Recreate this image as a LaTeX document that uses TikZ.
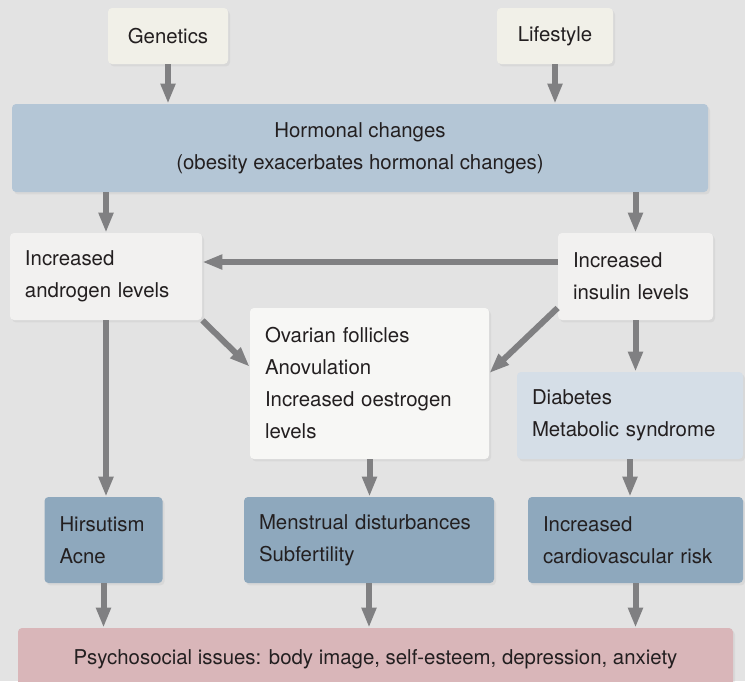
\documentclass[tikz,border=0pt]{standalone}
\usepackage{fontspec}
\setmainfont{TeX Gyre Heros}
\usetikzlibrary{arrows.meta,shadows}
\definecolor{PageGray}{RGB}{227,227,227}
\definecolor{InkGray}{RGB}{35,31,32}
\definecolor{ArrowGray}{RGB}{128,128,130}
\definecolor{CreamBox}{RGB}{241,240,232}
\definecolor{HormoneBlue}{RGB}{180,198,214}
\definecolor{LevelWhite}{RGB}{242,241,240}
\definecolor{OvaryWhite}{RGB}{247,247,245}
\definecolor{MetabBlue}{RGB}{213,222,231}
\definecolor{SteelBlue}{RGB}{142,168,189}
\definecolor{SoftPink}{RGB}{217,182,185}
\tikzset{
  box/.style={rounded corners=2pt,inner xsep=7.5pt,inner ysep=0pt,
    text=InkGray,font=\fontsize{10.2}{16}\selectfont,
    drop shadow={opacity=0.1,shadow xshift=1pt,shadow yshift=-1.2pt}},
  cause/.style={box,fill=CreamBox,align=center},
  hormone/.style={box,fill=HormoneBlue,align=center},
  level/.style={box,fill=LevelWhite,align=left},
  feature/.style={box,fill=OvaryWhite,align=left},
  metabolic/.style={box,fill=MetabBlue,align=left},
  outcome/.style={box,fill=SteelBlue,align=left,minimum height=43pt},
  psych/.style={box,fill=SoftPink,align=center},
  flow/.style={-{Triangle[length=10pt,width=7pt]},line width=3pt,ArrowGray}
}
\begin{document}
\begin{tikzpicture}[x=0.5pt,y=-0.5pt]
  \fill[PageGray] (0,0) rectangle (745,681);
  \useasboundingbox (0,0) rectangle (745,681);
  % top causes
  \node[cause,minimum width=60pt,minimum height=28pt] (genetics) at (168,36) {Genetics};
  \node[cause,minimum width=58pt,minimum height=28pt] (lifestyle) at (555,36) {Lifestyle};
  \node[hormone,minimum width=348pt,minimum height=44pt] (hormonal) at (360,148)
    {Hormonal changes\\(obesity exacerbates hormonal changes)};
  % levels
  \node[level,text width=81pt,minimum height=43.5pt] (androgen) at (106,276.5)
    {Increased\\androgen levels};
  \node[level,text width=62.5pt,minimum height=43.5pt] (insulin) at (635.5,276.5)
    {Increased\\insulin levels};
  \node[feature,text width=104.5pt,minimum height=75.5pt] (ovary) at (369.5,383.5)
    {Ovarian follicles\\Anovulation\\Increased oestrogen\\levels};
  \node[metabolic,text width=98pt,minimum height=43.5pt] (diabetes) at (630,415.5)
    {Diabetes\\Metabolic syndrome};
  % outcomes
  \node[outcome,text width=44pt] (hirsutism) at (103.5,540) {Hirsutism\\Acne};
  \node[outcome,text width=110pt] (menstrual) at (369,540) {Menstrual disturbances\\Subfertility};
  \node[outcome,text width=92.5pt] (cardio) at (635.5,540) {Increased\\cardiovascular risk};
  \node[psych,minimum width=357.5pt,minimum height=31pt] (psycho) at (375.5,659)
    {Psychosocial issues: body image, self-esteem, depression, anxiety};
  % arrows
  \draw[flow] (genetics.south) -- (genetics.south |- hormonal.north);
  \draw[flow] (lifestyle.south) -- (lifestyle.south |- hormonal.north);
  \draw[flow] (hormonal.south -| androgen.north) -- (androgen.north);
  \draw[flow] (hormonal.south -| insulin.north) -- (insulin.north);
  \draw[flow] (insulin.west |- 0,262) -- (androgen.east |- 0,262);
  \draw[flow] (androgen.south east) -- (ovary.172);
  \draw[flow] (insulin.202) -- (ovary.5);
  \draw[flow] (androgen.south) -- (androgen.south |- hirsutism.north);
  \draw[flow] (ovary.south) -- (ovary.south |- menstrual.north);
  \draw[flow] (insulin.south) -- (insulin.south |- diabetes.north);
  \draw[flow] (diabetes.south) -- (diabetes.south |- cardio.north);
  \foreach \n in {hirsutism,menstrual,cardio}
    \draw[flow] (\n.south) -- (\n.south |- psycho.north);
\end{tikzpicture}
\end{document}
